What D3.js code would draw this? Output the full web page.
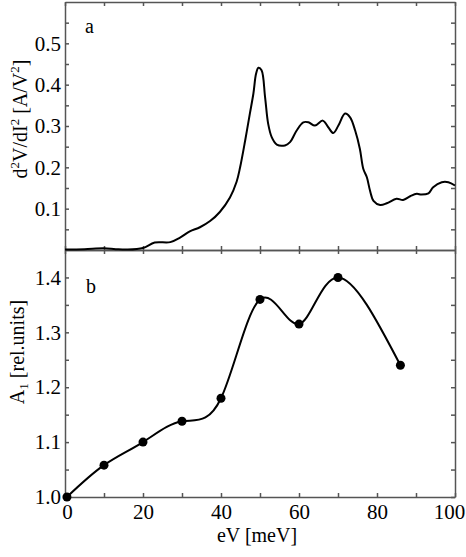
<!doctype html>
<html lang="en">
<head>
<meta charset="utf-8">
<script src="https://cdn.jsdelivr.net/npm/d3@7"></script>
<style>
  body {margin:0; background:#fff}
  svg {display:block}
  .axis path, .axis line {stroke:#555; stroke-width:1.5}
  .curve {fill:none; stroke:#000; stroke-width:2}
</style>
</head>
<body>
<script>
// panel a: d2V/dI2 spectrum
let specEv  = [0, 5, 10, 13, 16, 20, 23, 27, 29.5, 32, 34.6, 37.2, 39.7, 42.3, 44, 44.9, 46.2, 47.4, 48.3, 49.0, 49.6, 50.4, 51.3, 52.1, 53.0, 54.3, 56.4, 57.7, 59.4, 61.1, 62.4, 64.1, 66.1, 67.5, 68.8, 70.1, 71.8, 73.1, 74.4, 75.6, 76.5, 77.4, 78.2, 79.1, 80.8, 82.5, 85.0, 86.7, 88.5, 90.2, 91.4, 93.2, 94.4, 96.6, 98.3, 100];
let specVal = [0.001, 0.002, 0.004, 0.002, 0.001, 0.005, 0.018, 0.019, 0.030, 0.045, 0.055, 0.070, 0.092, 0.127, 0.165, 0.200, 0.265, 0.330, 0.378, 0.427, 0.441, 0.435, 0.370, 0.305, 0.273, 0.255, 0.253, 0.261, 0.289, 0.309, 0.309, 0.301, 0.313, 0.297, 0.283, 0.301, 0.330, 0.321, 0.289, 0.245, 0.196, 0.176, 0.144, 0.119, 0.109, 0.113, 0.124, 0.121, 0.130, 0.136, 0.134, 0.137, 0.152, 0.164, 0.164, 0.156];

// panel b: A1 points
let ampEv  = [0.5, 10, 20, 30, 40, 50, 60, 70, 86];
let ampVal = [1.0, 1.058, 1.1, 1.138, 1.18, 1.36, 1.315, 1.40, 1.24];

let xLabels = [0, 20, 40, 60, 80, 100];
let aLabels = [0.1, 0.2, 0.3, 0.4, 0.5];
let bLabels = [1.0, 1.1, 1.2, 1.3, 1.4];

let W = 466, H = 557;
let pLeft = 65, pRight = 455, pTop = 2, pMid = 250, pBottom = 497;
let serif = "'Liberation Serif', 'Times New Roman', serif";

let svg = d3.select("body").append("svg").attr("width", W).attr("height", H)
  .attr("font-family", serif);

let x = d3.scaleLinear().domain([0, 100]).range([pLeft, pRight]);
let yA = d3.scaleLinear().domain([0, 0.6]).range([pMid, pTop]);
let yB = d3.scaleLinear().domain([1.0, 1.45]).range([pBottom, pMid]);

let xTicks = d3.range(0, 101, 10);
let aTicks = d3.range(1, 12).map(d => d * 0.05);
let bTicks = d3.range(0, 9).map(d => 1 + d * 0.05);

function near(v, list) { return list.some(l => Math.abs(l - v) < 1e-6); }

function ax(gen, tr, vals, fmt) {
  let g = svg.append("g").attr("class", "axis").attr("transform", tr)
    .call(gen.tickValues(vals).tickSizeInner(-4).tickSizeOuter(0).tickPadding(4).tickFormat(fmt));
  g.attr("font-family", serif).attr("font-size", 21);
  g.selectAll("text").attr("fill", "#000");
  return g;
}
let none = () => "";

// panel a axes
ax(d3.axisLeft(yA), `translate(${pLeft},0)`, aTicks, d => near(d, aLabels) ? d3.format(".1f")(d) : "");
ax(d3.axisRight(yA), `translate(${pRight},0)`, aTicks, none);
ax(d3.axisTop(x), `translate(0,${pTop})`, xTicks, none);
ax(d3.axisBottom(x), `translate(0,${pMid})`, xTicks, none).selectAll(".tick line").attr("y2", -4);

// panel b axes
ax(d3.axisLeft(yB), `translate(${pLeft},0)`, bTicks, d => near(d, bLabels) ? d3.format(".1f")(d) : "");
ax(d3.axisRight(yB), `translate(${pRight},0)`, bTicks, none);
ax(d3.axisTop(x), `translate(0,${pMid})`, xTicks, none).selectAll(".tick line").attr("y2", 4);
let xb = ax(d3.axisBottom(x), `translate(0,${pBottom})`, xTicks, d => near(d, xLabels) ? d : "");
xb.selectAll(".tick text").attr("dy", "0.85em").filter(d => d === 100).attr("dx", -6);
xb.selectAll(".tick text").filter(d => d === 0).attr("dx", 2);

// curves
svg.append("path").attr("class", "curve")
  .attr("d", d3.line().x(d => x(d[0])).y(d => yA(d[1])).curve(d3.curveCatmullRom)(d3.zip(specEv, specVal)));

let pts = d3.zip(ampEv, ampVal);
svg.append("path").attr("class", "curve").attr("stroke-width", 1.8)
  .attr("d", d3.line().x(d => x(d[0])).y(d => yB(d[1])).curve(d3.curveNatural)(pts));
svg.selectAll("circle").data(pts).enter().append("circle")
  .attr("cx", d => x(d[0])).attr("cy", d => yB(d[1])).attr("r", 4.5).attr("fill", "#000");

// panel letters
svg.append("text").attr("x", 85).attr("y", 33).attr("font-size", 20).text("a");
svg.append("text").attr("x", 86).attr("y", 293).attr("font-size", 20).text("b");

// axis titles
let ta = svg.append("text").attr("transform", "translate(27,119) rotate(-90)")
  .attr("text-anchor", "middle").attr("font-size", 20);
ta.append("tspan").text("d");
ta.append("tspan").attr("font-size", 13).attr("dy", -8).text("2");
ta.append("tspan").attr("dy", 8).text("V/dI");
ta.append("tspan").attr("font-size", 13).attr("dy", -8).text("2");
ta.append("tspan").attr("dy", 8).text(" [A/V");
ta.append("tspan").attr("font-size", 13).attr("dy", -8).text("2");
ta.append("tspan").attr("dy", 8).text("]");

let tb = svg.append("text").attr("transform", "translate(24,352) rotate(-90)")
  .attr("text-anchor", "middle").attr("font-size", 20);
tb.append("tspan").text("A");
tb.append("tspan").attr("font-size", 13).attr("dy", 4).text("1");
tb.append("tspan").attr("dy", -4).text(" [rel.units]");

svg.append("text").attr("x", 257).attr("y", 542).attr("text-anchor", "middle")
  .attr("font-size", 20).text("eV [meV]");
</script>
</body>
</html>
